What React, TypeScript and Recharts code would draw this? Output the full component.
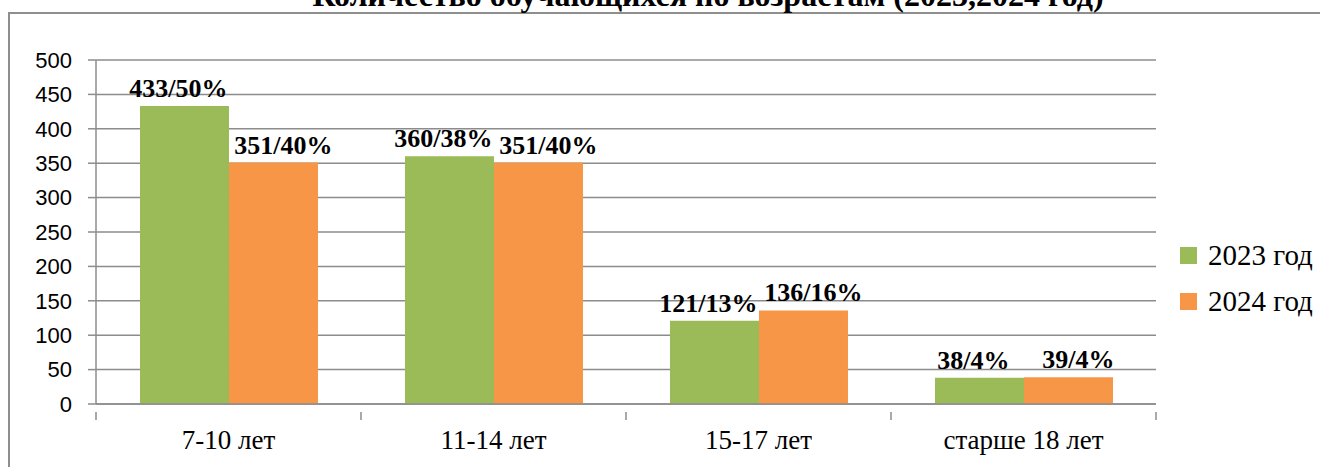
import React from 'react';
import { BarChart, Bar, XAxis, YAxis, CartesianGrid, Legend, LabelList } from 'recharts';

const categories = ['7-10 лет', '11-14 лет', '15-17 лет', 'старше 18 лет'];
const values2023 = [433, 360, 121, 38];
const values2024 = [351, 351, 136, 39];
const labels2023 = ['433/50%', '360/38%', '121/13%', '38/4%'];
const labels2024 = ['351/40%', '351/40%', '136/16%', '39/4%'];
const yTicks = [0, 50, 100, 150, 200, 250, 300, 350, 400, 450, 500];

const GREEN = '#9BBB59';
const ORANGE = '#F79646';
const GRID = '#8c8c8c';
const SERIF = '"Liberation Serif", "Times New Roman", serif';

const data = categories.map((name, i) => ({
    name,
    y2023: values2023[i],
    y2024: values2024[i],
    l2023: labels2023[i],
    l2024: labels2024[i],
}));

// category ticks: label in the middle, tick marks on the band edges
const CategoryTick = (props: any) => {
    const { x, y, payload, index } = props;
    const half = payload.offset ?? 0;
    return (
        <g>
            <line x1={x - half} y1={y} x2={x - half} y2={y + 8} stroke={GRID} strokeWidth={1.5} />
            {index === categories.length - 1 && (
                <line x1={x + half} y1={y} x2={x + half} y2={y + 8} stroke={GRID} strokeWidth={1.5} />
            )}
            <text x={x} y={y + 37} textAnchor="middle" fontFamily={SERIF} fontSize={27} fill="#000">
                {payload.value}
            </text>
        </g>
    );
};

const LegendContent = (props: any) => (
    <div>
        {props.payload.map((item: any) => (
            <div key={item.value} style={{ display: 'flex', alignItems: 'center', height: 46 }}>
                <div style={{ width: 17, height: 17, background: item.color, marginRight: 11 }} />
                <span style={{ fontFamily: SERIF, fontSize: 29, color: '#000', whiteSpace: 'nowrap' }}>{item.value}</span>
            </div>
        ))}
    </div>
);

// bold value labels, nudged sideways like the original so neighbours don't collide
const makeLabel = (dx: number) => (props: any) => {
    const { x, y, width, value } = props;
    return (
        <text
            x={x + width / 2 + dx}
            y={y - 9}
            textAnchor="middle"
            fontFamily={SERIF}
            fontWeight="bold"
            fontSize={26}
            fill="#000"
        >
            {value}
        </text>
    );
};

export default function App() {
    return (
        <div style={{ position: 'absolute', left: 0, top: 0, width: 1320, height: 467, overflow: 'hidden', background: '#fff' }}>
            {/* frame of the chart area, runs off the right and bottom */}
            <div style={{ position: 'absolute', left: 8, top: 12, width: 1400, height: 500, border: '2px solid #8e8e8e' }} />
            <div
                style={{
                    position: 'absolute', left: 258, top: -21, width: 900, textAlign: 'center',
                    fontFamily: SERIF, fontWeight: 'bold', fontSize: 32, lineHeight: '32px', whiteSpace: 'nowrap',
                }}
            >
                Количество обучающихся по возрастам (2023,2024 год)
            </div>
            <div style={{ position: 'absolute', left: 0, top: 0 }}>
                <BarChart
                    width={1320}
                    height={467}
                    data={data}
                    margin={{ top: 60, right: 164, bottom: 13, left: 0 }}
                    barCategoryGap="16.6%"
                    barGap={0}
                >
                    <CartesianGrid vertical={false} stroke={GRID} strokeWidth={1.5} />
                    <XAxis
                        dataKey="name"
                        height={50}
                        axisLine={{ stroke: GRID, strokeWidth: 1.5 }}
                        tickLine={false}
                        tick={<CategoryTick />}
                        interval={0}
                    />
                    <YAxis
                        width={96}
                        domain={[0, 500]}
                        ticks={yTicks}
                        interval={0}
                        tickSize={8}
                        tickMargin={16}
                        axisLine={{ stroke: GRID, strokeWidth: 1.5 }}
                        tickLine={{ stroke: GRID, strokeWidth: 1.5 }}
                        tick={{ fontFamily: '"Liberation Sans", Arial, sans-serif', fontSize: 22, fill: '#000' }}
                    />
                    <Legend
                        layout="vertical"
                        align="center"
                        verticalAlign="middle"
                        content={<LegendContent />}
                        wrapperStyle={{ left: 1180, top: 232, width: 140 }}
                    />
                    <Bar dataKey="y2023" name="2023 год" fill={GREEN} isAnimationActive={false}>
                        <LabelList dataKey="l2023" content={makeLabel(-6)} />
                    </Bar>
                    <Bar dataKey="y2024" name="2024 год" fill={ORANGE} isAnimationActive={false}>
                        <LabelList dataKey="l2024" content={makeLabel(10)} />
                    </Bar>
                </BarChart>
            </div>
        </div>
    );
}
